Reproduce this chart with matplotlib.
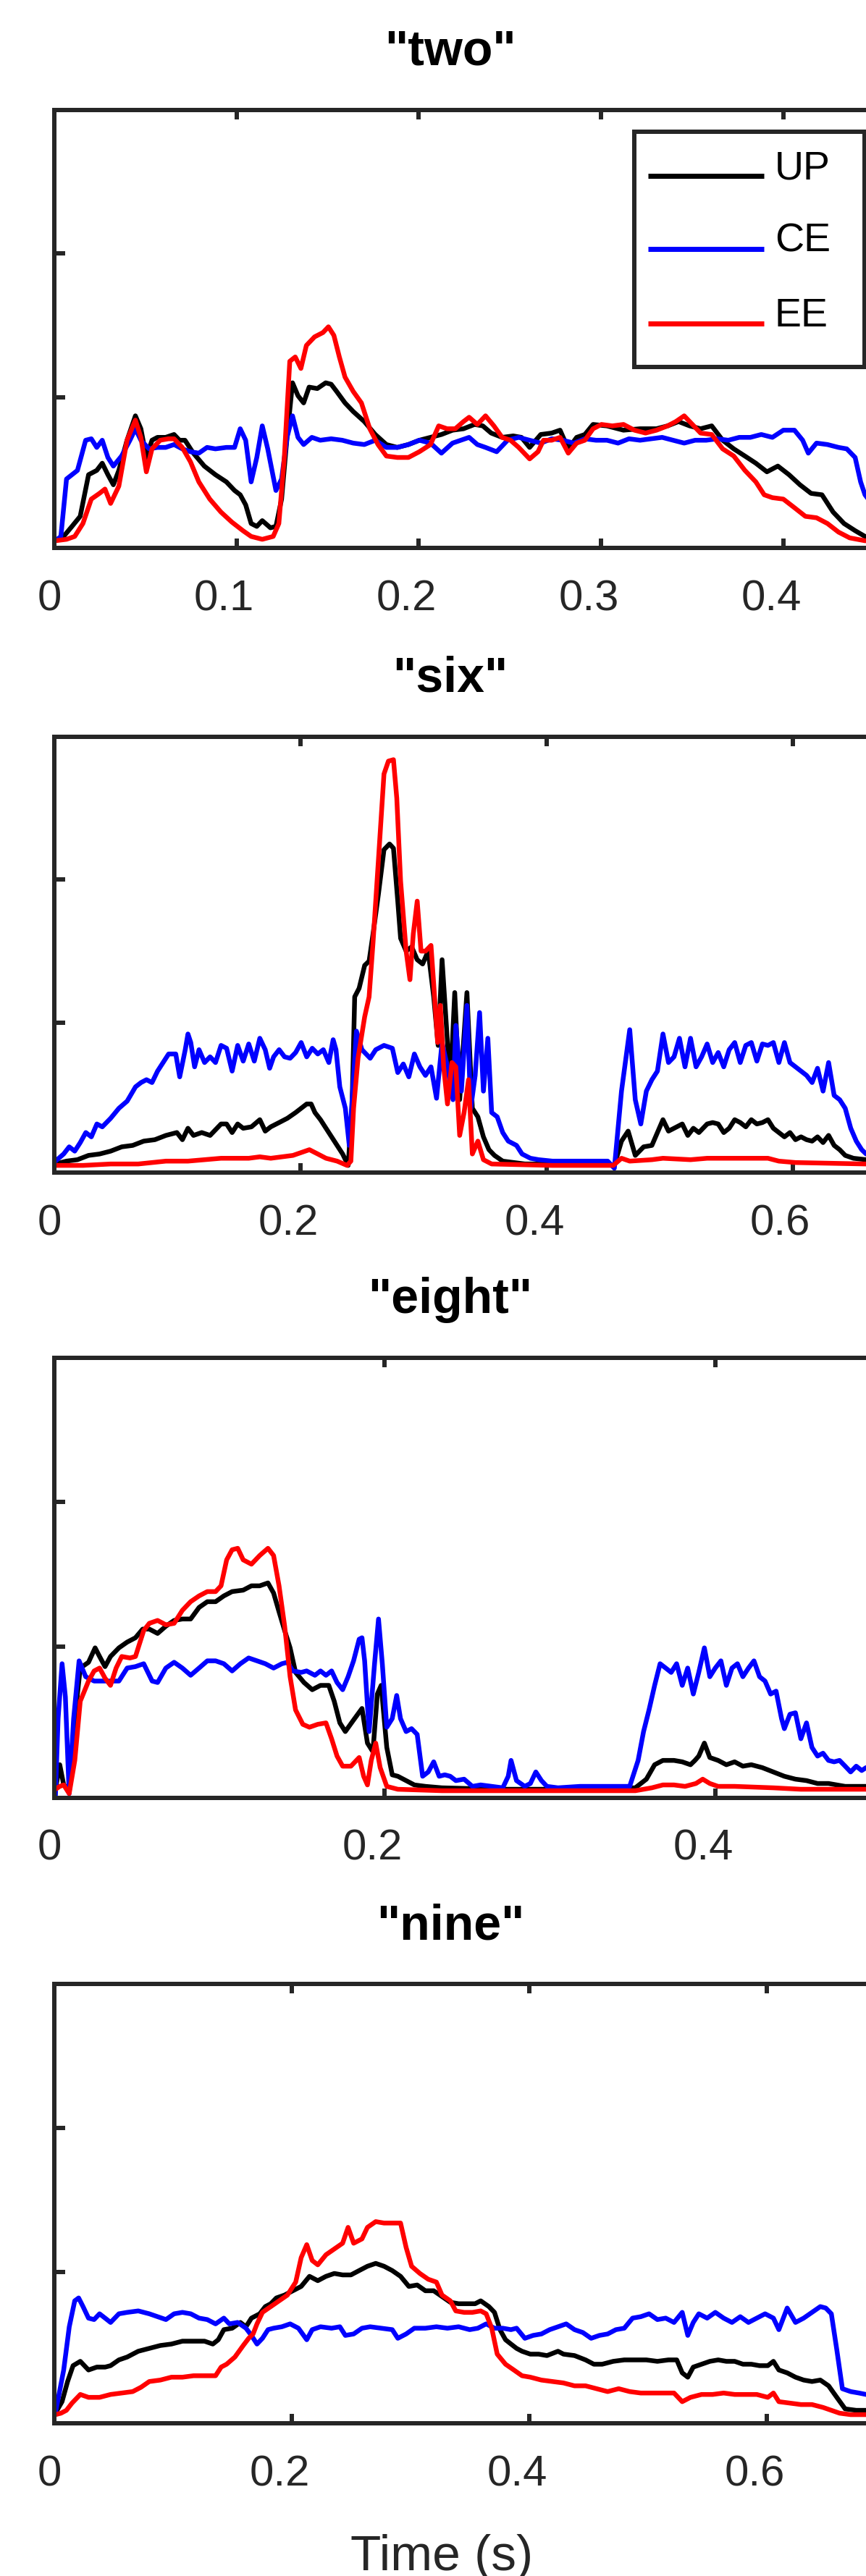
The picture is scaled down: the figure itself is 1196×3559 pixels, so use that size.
import matplotlib
matplotlib.use('Agg')
import matplotlib.pyplot as plt
import matplotlib.transforms as mtransforms
from matplotlib import font_manager
from matplotlib.lines import Line2D
from matplotlib.patches import Rectangle

plt.rcParams['font.family'] = ['Liberation Sans', 'DejaVu Sans']

# ---------------- data: (time in ms, amplitude in tick units) ----------------
titles = ['"two"', '"six"', '"eight"', '"nine"']
series_names = ['UP', 'CE', 'EE']
series_colors = ['#000000', '#0000FF', '#FF0000']
x_max = [0.4827, 0.7149, 0.5324, 0.7409]
x_ticks = [[0, 0.1, 0.2, 0.3, 0.4], [0, 0.2, 0.4, 0.6], [0, 0.2, 0.4], [0, 0.2, 0.4, 0.6]]
x_ticklabels = [['0', '0.1', '0.2', '0.3', '0.4'], ['0', '0.2', '0.4', '0.6'],
                ['0', '0.2', '0.4'], ['0', '0.2', '0.4', '0.6']]
x_label = 'Time (s)'

two_up = [(0.6,0.00),(5.1,0.03),(9.7,0.10),(14.2,0.17),(18.8,0.46),(23.3,0.49),(26.3,0.54),(29.4,0.46),
          (32.4,0.39),(35.4,0.49),(39.9,0.70),(44.5,0.87),(47.5,0.78),(50.5,0.58),(53.6,0.70),(56.6,0.72),
          (61.1,0.72),(65.7,0.74),(68.7,0.70),(71.7,0.70),(76.3,0.61),(82.3,0.52),(88.4,0.46),(94.4,0.41),
          (98.9,0.35),(102.0,0.32),(105.0,0.25),(108.0,0.12),(111.1,0.10),(114.1,0.14),(118.6,0.09),
          (121.6,0.10),(124.7,0.29),(127.7,0.72),(130.7,1.10),(133.7,1.01),(136.8,0.96),(139.8,1.07),
          (144.3,1.06),(148.9,1.10),(151.9,1.09),(154.9,1.04),(159.5,0.96),(164.0,0.90),(170.1,0.83),
          (176.1,0.74),(182.2,0.67),(188.2,0.65),(194.3,0.67),(200.3,0.70),(206.4,0.72),(212.4,0.74),
          (218.5,0.77),(224.5,0.78),(230.6,0.81),(235.1,0.80),(239.7,0.75),(245.7,0.72),(251.8,0.73),
          (256.3,0.72),(260.8,0.65),(266.9,0.74),(272.9,0.75),(277.5,0.77),(282.0,0.64),(286.6,0.72),
          (291.1,0.74),(295.6,0.81),(303.2,0.80),(312.3,0.77),(321.4,0.78),(330.4,0.78),(336.5,0.80),
          (342.5,0.83),(348.6,0.80),(354.6,0.78),(360.7,0.80),(366.7,0.70),(372.8,0.64),(378.9,0.59),
          (384.9,0.54),(391.0,0.48),(397.0,0.52),(403.1,0.46),(409.1,0.39),(415.2,0.33),(421.2,0.32),
          (427.3,0.20),(433.3,0.12),(439.4,0.07),(444.8,0.03),(460.0,0.00),(485.0,0.00)]
two_ce = [(0.6,0.00),(3.6,0.03),(6.7,0.43),(9.7,0.46),(12.7,0.49),(17.2,0.70),(20.3,0.71),(23.3,0.65),
          (26.3,0.70),(29.4,0.58),(32.4,0.52),(36.9,0.59),(41.5,0.70),(44.5,0.78),(47.5,0.70),(52.0,0.64),
          (56.6,0.65),(61.1,0.65),(65.7,0.67),(70.2,0.64),(74.7,0.62),(79.3,0.61),(83.8,0.65),(88.4,0.64),
          (94.4,0.65),(98.9,0.65),(102.0,0.78),(105.0,0.70),(108.0,0.41),(111.1,0.58),(114.1,0.80),
          (117.1,0.64),(121.6,0.35),(124.7,0.43),(127.7,0.72),(130.7,0.87),(133.7,0.72),(136.8,0.67),
          (141.3,0.72),(145.9,0.70),(151.9,0.71),(158.0,0.70),(164.0,0.68),(170.1,0.67),(176.1,0.70),
          (182.2,0.65),(188.2,0.65),(194.3,0.67),(200.3,0.70),(206.4,0.68),(212.4,0.61),(218.5,0.68),
          (227.6,0.72),(232.1,0.67),(236.6,0.65),(242.7,0.62),(248.7,0.70),(254.8,0.72),(260.8,0.70),
          (266.9,0.68),(272.9,0.71),(279.0,0.70),(285.1,0.68),(291.1,0.71),(297.2,0.70),(303.2,0.70),
          (309.3,0.68),(315.3,0.71),(321.4,0.70),(327.4,0.71),(333.5,0.72),(339.5,0.70),(345.6,0.68),
          (351.6,0.70),(357.7,0.70),(363.7,0.71),(369.8,0.70),(375.8,0.72),(381.9,0.72),(387.9,0.74),
          (394.0,0.72),(400.0,0.77),(406.1,0.77),(410.6,0.70),(413.7,0.61),(418.2,0.68),(424.2,0.67),
          (430.3,0.65),(434.8,0.64),(439.4,0.58),(442.4,0.41),(444.8,0.32),(455.0,0.15),(482.0,0.05)]
two_ee = [(0.6,0.00),(6.7,0.01),(11.2,0.03),(15.7,0.12),(20.3,0.29),(24.8,0.33),(27.8,0.36),(30.9,0.26),
          (35.4,0.38),(39.9,0.70),(44.5,0.84),(47.5,0.72),(50.5,0.48),(53.6,0.64),(58.1,0.70),(62.6,0.71),
          (65.7,0.71),(70.2,0.65),(74.7,0.55),(79.3,0.41),(85.3,0.29),(91.4,0.20),(97.4,0.13),(103.5,0.07),
          (108.0,0.03),(114.1,0.01),(120.1,0.03),(123.2,0.12),(126.2,0.58),(129.2,1.25),(132.2,1.28),
          (135.3,1.20),(138.3,1.36),(142.8,1.42),(147.4,1.45),(150.4,1.49),(153.4,1.43),(156.4,1.28),
          (159.5,1.14),(164.0,1.04),(168.5,0.96),(173.1,0.78),(177.6,0.67),(182.2,0.59),(188.2,0.58),
          (194.3,0.58),(200.3,0.62),(206.4,0.67),(210.9,0.80),(215.5,0.78),(220.0,0.78),(224.5,0.83),
          (227.6,0.86),(232.1,0.81),(236.6,0.87),(241.2,0.80),(245.7,0.72),(250.3,0.70),(254.8,0.65),
          (260.8,0.57),(265.4,0.62),(268.4,0.70),(272.9,0.70),(277.5,0.72),(282.0,0.61),(286.6,0.68),
          (291.1,0.70),(295.6,0.78),(300.2,0.81),(306.2,0.80),(312.3,0.81),(318.3,0.77),(324.4,0.75),
          (330.4,0.77),(336.5,0.80),(341.0,0.83),(345.6,0.87),(350.1,0.81),(354.6,0.75),(360.7,0.74),
          (366.7,0.64),(372.8,0.59),(378.9,0.49),(384.9,0.41),(389.5,0.32),(394.0,0.30),(400.0,0.29),
          (406.1,0.23),(412.1,0.17),(418.2,0.16),(424.2,0.12),(430.3,0.06),(436.4,0.02),(444.8,0.00),
          (480.0,0.00)]

six_up = [(0.9,0.01),(9.9,0.03),(18.8,0.04),(27.8,0.07),(36.8,0.08),(45.8,0.10),(54.8,0.13),(63.7,0.14),
          (72.7,0.17),(81.7,0.18),(90.7,0.21),(99.6,0.23),(104.1,0.18),(108.6,0.26),(113.1,0.21),
          (119.8,0.23),(126.6,0.21),(135.5,0.29),(140.0,0.29),(144.5,0.23),(149.0,0.29),(153.5,0.26),
          (160.2,0.27),(167.0,0.32),(171.4,0.24),(175.9,0.27),(182.7,0.30),(189.4,0.33),(196.1,0.37),
          (200.6,0.40),(205.1,0.43),(208.7,0.43),(211.8,0.37),(216.3,0.32),(220.8,0.26),(225.3,0.20),
          (229.8,0.14),(234.3,0.08),(238.8,0.00),(241.9,0.40),(244.1,1.18),(247.7,1.24),(252.2,1.40),
          (255.8,1.43),(259.0,1.62),(263.4,1.90),(267.9,2.21),(272.4,2.25),(275.6,2.22),(279.1,1.85),
          (281.4,1.59),(285.9,1.50),(290.4,1.53),(294.9,1.44),(299.3,1.41),(303.8,1.50),(308.3,1.18),
          (311.9,0.84),(315.1,1.44),(318.6,0.98),(321.8,0.55),(325.4,1.21),(329.4,0.46),(335.3,1.21),
          (339.7,0.40),(344.2,0.34),(348.7,0.20),(353.2,0.11),(357.7,0.07),(364.4,0.03),(382.4,0.01),
          (449.7,0.01),(455.1,0.00),(460.9,0.17),(466.3,0.24),(472.1,0.07),(478.9,0.13),(485.6,0.14),
          (490.1,0.23),(494.6,0.32),(499.1,0.24),(503.6,0.26),(510.3,0.29),(514.8,0.21),(519.3,0.26),
          (523.8,0.23),(530.5,0.29),(535.0,0.30),(539.5,0.29),(544.0,0.23),(548.4,0.26),(552.9,0.32),
          (557.4,0.30),(561.9,0.27),(566.4,0.32),(570.9,0.29),(575.4,0.30),(579.9,0.32),(584.3,0.26),
          (588.8,0.23),(593.3,0.20),(597.8,0.23),(602.3,0.18),(606.8,0.20),(611.3,0.18),(615.8,0.17),
          (620.2,0.20),(624.7,0.16),(629.2,0.21),(633.7,0.14),(638.2,0.11),(642.7,0.07),(649.4,0.05),
          (659.7,0.04),(720.0,0.02)]
six_ce = [(0.9,0.03),(7.6,0.08),(12.1,0.13),(16.6,0.10),(21.1,0.16),(25.6,0.23),(30.1,0.20),(34.6,0.29),
          (39.0,0.27),(45.8,0.33),(52.5,0.40),(59.2,0.45),(66.0,0.55),(70.5,0.58),(74.9,0.60),(79.4,0.58),
          (83.9,0.66),(88.4,0.72),(92.9,0.78),(98.7,0.78),(101.9,0.62),(106.4,0.81),(108.6,0.92),
          (110.9,0.86),(114.0,0.69),(117.6,0.81),(122.1,0.72),(126.6,0.76),(131.0,0.72),(135.5,0.84),
          (140.0,0.82),(144.5,0.66),(149.0,0.84),(153.5,0.73),(158.0,0.85),(162.5,0.73),(167.0,0.89),
          (171.4,0.81),(175.0,0.68),(178.2,0.76),(182.7,0.81),(187.1,0.76),(191.6,0.75),(196.1,0.79),
          (200.6,0.86),(205.1,0.76),(209.6,0.82),(214.1,0.78),(218.6,0.81),(223.1,0.72),(226.6,0.88),
          (228.9,0.81),(232.0,0.55),(236.5,0.40),(239.7,0.14),(245.5,0.94),(250.0,0.81),(256.7,0.75),
          (261.2,0.81),(267.9,0.84),(274.7,0.82),(279.1,0.65),(283.6,0.71),(288.1,0.62),(292.6,0.78),
          (297.1,0.69),(301.6,0.63),(306.1,0.69),(310.6,0.47),(315.1,0.86),(319.5,0.69),(324.0,0.46),
          (326.3,0.98),(330.8,0.52),(335.3,1.12),(338.4,0.40),(342.0,0.63),(345.6,1.07),(348.7,0.52),
          (352.3,0.89),(355.4,0.37),(359.9,0.34),(364.4,0.23),(368.9,0.17),(375.6,0.14),(380.1,0.08),
          (386.9,0.05),(393.6,0.04),(404.8,0.03),(427.3,0.03),(449.7,0.03),(455.1,-0.02),(460.9,0.52),
          (467.6,0.95),(472.1,0.46),(476.6,0.29),(481.1,0.52),(485.6,0.60),(490.1,0.66),(494.6,0.92),
          (499.1,0.72),(503.6,0.76),(508.0,0.89),(512.5,0.69),(517.0,0.89),(521.5,0.69),(526.0,0.76),
          (530.5,0.85),(535.0,0.72),(539.5,0.79),(544.0,0.69),(548.4,0.81),(552.9,0.86),(557.4,0.72),
          (561.9,0.84),(566.4,0.86),(570.9,0.73),(575.4,0.85),(579.9,0.84),(584.3,0.86),(588.8,0.72),
          (593.3,0.86),(597.8,0.72),(602.3,0.69),(606.8,0.66),(611.3,0.63),(615.8,0.58),(620.2,0.68),
          (624.7,0.52),(629.2,0.72),(633.7,0.49),(638.2,0.46),(642.7,0.40),(647.2,0.26),(651.7,0.17),
          (656.1,0.11),(659.7,0.08),(680.0,0.04),(720.0,0.03)]
six_ee = [(0.9,0.00),(23.3,0.00),(45.8,0.01),(68.2,0.01),(90.7,0.03),(108.6,0.03),(135.5,0.05),
          (158.0,0.05),(167.0,0.06),(175.9,0.05),(184.9,0.06),(193.9,0.07),(200.6,0.09),(207.3,0.11),
          (214.1,0.08),(220.8,0.05),(229.8,0.03),(237.9,0.00),(241.0,0.03),(243.2,0.40),(246.8,0.75),
          (252.2,1.04),(255.8,1.18),(259.0,1.56),(263.4,2.14),(267.9,2.74),(271.5,2.83),(275.6,2.84),
          (278.3,2.57),(281.4,1.99),(285.9,1.50),(289.0,1.30),(291.7,1.62),(294.9,1.85),(298.0,1.50),
          (301.6,1.50),(306.1,1.54),(308.3,1.27),(311.5,0.86),(313.7,1.12),(316.4,0.69),(319.5,0.43),
          (323.1,0.72),(326.3,0.69),(329.4,0.21),(333.0,0.37),(336.6,0.60),(339.7,0.08),(344.2,0.17),
          (348.7,0.04),(355.4,0.01),(404.8,0.00),(454.2,0.00),(460.9,0.05),(467.6,0.03),(485.6,0.04),
          (494.6,0.05),(517.0,0.04),(530.5,0.05),(552.9,0.05),(566.4,0.05),(579.9,0.05),(588.8,0.03),
          (602.3,0.02),(659.7,0.01),(720.0,0.01)]

eight_up = [(0.7,0.01),(3.3,0.18),(5.7,0.04),(9.0,0.01),(12.4,0.50),(15.7,0.85),(20.7,0.89),(24.7,0.99),
            (27.4,0.93),(30.7,0.86),(34.0,0.93),(39.1,0.99),(44.1,1.03),(49.1,1.06),(53.5,1.12),(57.5,1.12),
            (62.5,1.09),(67.5,1.14),(72.5,1.18),(77.5,1.19),(82.5,1.19),(87.6,1.27),(92.6,1.31),(97.6,1.31),
            (102.6,1.35),(107.6,1.38),(114.3,1.39),(119.3,1.42),(124.3,1.42),(129.3,1.44),(132.7,1.37),
            (136.0,1.24),(139.4,1.11),(142.7,0.99),(146.0,0.82),(151.1,0.75),(156.1,0.70),(161.1,0.73),
            (166.1,0.73),(169.4,0.62),(172.8,0.47),(176.1,0.41),(181.1,0.49),(186.2,0.57),(189.5,0.33),
            (192.8,0.27),(195.5,0.67),(197.8,0.73),(201.2,0.30),(204.5,0.11),(207.9,0.10),(212.9,0.07),
            (217.9,0.04),(224.6,0.03),(234.6,0.02),(268.0,0.01),(301.4,0.01),(351.6,0.02),(358.3,0.08),
            (363.3,0.18),(368.3,0.21),(375.0,0.21),(380.0,0.20),(385.0,0.18),(387.7,0.21),(390.0,0.24),
            (393.4,0.33),(396.7,0.23),(401.7,0.21),(406.7,0.18),(411.7,0.20),(416.7,0.17),(421.8,0.18),
            (428.4,0.16),(435.1,0.13),(441.8,0.10),(448.5,0.08),(455.2,0.07),(461.9,0.05),(468.5,0.05),
            (478.6,0.03),(491.3,0.03),(540.0,0.02)]
eight_ce = [(0.7,-0.03),(2.3,0.50),(4.7,0.88),(6.7,0.65),(9.0,-0.02),(11.7,0.50),(15.0,0.90),(19.0,0.79),
            (24.1,0.76),(29.1,0.76),(34.0,0.76),(39.1,0.76),(44.1,0.85),(49.1,0.86),(54.1,0.88),(59.2,0.76),
            (62.5,0.75),(67.5,0.85),(72.5,0.89),(77.5,0.85),(82.5,0.80),(87.6,0.85),(92.6,0.90),(97.6,0.90),
            (102.6,0.88),(107.6,0.83),(112.6,0.88),(117.6,0.92),(122.7,0.90),(127.7,0.88),(132.7,0.85),
            (137.7,0.88),(141.0,0.89),(144.4,0.83),(149.4,0.82),(152.7,0.83),(157.7,0.80),(161.1,0.83),
            (164.4,0.80),(167.8,0.83),(171.1,0.75),(174.5,0.70),(177.8,0.79),(181.1,0.90),(184.5,1.05),
            (186.2,1.06),(187.8,0.90),(190.5,0.41),(193.8,0.88),(196.2,1.19),(198.5,0.88),(201.2,0.44),
            (204.5,0.50),(207.2,0.66),(209.5,0.50),(212.9,0.41),(216.2,0.43),(219.6,0.39),(222.9,0.10),
            (226.3,0.13),(229.6,0.20),(232.9,0.10),(236.3,0.11),(239.6,0.10),(243.0,0.07),(248.0,0.08),
            (253.0,0.03),(258.0,0.04),(264.7,0.03),(271.4,0.02),(274.7,0.10),(276.4,0.21),(279.7,0.07),
            (284.7,0.03),(288.1,0.05),(291.4,0.13),(294.8,0.07),(298.1,0.03),(304.8,0.02),(318.2,0.03),
            (334.9,0.03),(348.2,0.03),(353.3,0.21),(356.6,0.41),(359.9,0.56),(363.3,0.73),(366.6,0.88),
            (370.0,0.85),(373.3,0.82),(376.6,0.88),(380.0,0.73),(383.3,0.85),(386.7,0.67),(390.0,0.82),
            (393.4,0.99),(396.7,0.79),(400.0,0.85),(403.4,0.90),(406.7,0.73),(410.1,0.85),(413.4,0.88),
            (416.7,0.79),(420.1,0.85),(423.4,0.90),(426.8,0.79),(430.1,0.76),(433.5,0.67),(436.8,0.69),
            (440.1,0.50),(441.8,0.43),(445.2,0.53),(448.5,0.54),(451.8,0.36),(455.2,0.47),(458.5,0.30),
            (461.9,0.24),(465.2,0.26),(468.5,0.21),(471.9,0.20),(475.2,0.21),(478.6,0.17),(481.9,0.13),
            (485.3,0.17),(488.6,0.14),(491.3,0.16),(510.0,0.10),(540.0,0.05)]
eight_ee = [(0.7,0.01),(3.3,0.03),(5.7,0.04),(9.0,-0.02),(12.4,0.21),(15.7,0.62),(20.7,0.76),(24.1,0.83),
            (27.4,0.85),(30.7,0.78),(34.0,0.73),(37.4,0.85),(40.8,0.93),(45.8,0.92),(49.1,0.93),(54.1,1.11),
            (57.5,1.16),(62.5,1.18),(67.5,1.15),(72.5,1.16),(77.5,1.25),(82.5,1.31),(87.6,1.35),(92.6,1.38),
            (97.6,1.38),(100.9,1.42),(104.3,1.60),(107.6,1.67),(111.0,1.68),(114.3,1.60),(119.3,1.57),
            (124.3,1.63),(129.3,1.68),(132.7,1.63),(136.0,1.42),(139.4,1.14),(142.7,0.79),(146.0,0.56),
            (150.4,0.46),(154.4,0.44),(159.4,0.46),(164.4,0.47),(167.8,0.36),(171.1,0.24),(174.5,0.17),
            (179.5,0.17),(184.5,0.23),(187.2,0.10),(189.5,0.04),(191.8,0.21),(194.5,0.33),(197.2,0.16),
            (201.2,0.03),(207.9,0.01),(234.6,0.00),(351.6,0.00),(361.6,0.02),(368.3,0.04),(375.0,0.04),
            (381.7,0.03),(388.3,0.05),(392.4,0.08),(396.7,0.05),(401.7,0.03),(411.7,0.03),(435.1,0.02),
            (451.8,0.01),(491.3,0.01),(540.0,0.00)]

nine_up = [(0.9,0.02),(6.5,0.10),(11.2,0.24),(15.8,0.35),(21.9,0.38),(28.8,0.32),(35.8,0.34),(42.8,0.34),
           (47.4,0.35),(54.4,0.39),(61.4,0.41),(70.7,0.45),(80.0,0.47),(89.3,0.49),(98.6,0.50),(107.9,0.52),
           (117.2,0.52),(126.5,0.52),(133.5,0.50),(138.1,0.53),(142.8,0.60),(149.8,0.61),(156.7,0.65),
           (161.4,0.62),(166.0,0.68),(173.0,0.71),(177.7,0.76),(182.3,0.78),(187.0,0.82),(193.9,0.84),
           (200.9,0.87),(207.9,0.90),(214.9,0.97),(221.9,0.94),(228.8,0.97),(235.8,0.99),(242.8,0.98),
           (249.8,0.98),(256.7,1.01),(263.7,1.04),(270.7,1.06),(277.7,1.04),(284.6,1.01),(291.6,0.97),
           (298.6,0.90),(305.6,0.91),(312.5,0.87),(319.5,0.87),(326.5,0.83),(333.5,0.79),(340.5,0.78),
           (347.4,0.78),(354.4,0.78),(359.1,0.80),(366.0,0.76),(370.7,0.72),(375.3,0.60),(380.0,0.53),
           (384.6,0.50),(389.3,0.47),(393.9,0.45),(400.9,0.43),(407.9,0.43),(414.9,0.42),(424.2,0.45),
           (428.8,0.43),(438.1,0.42),(447.4,0.39),(454.4,0.36),(461.4,0.36),(470.7,0.38),(480.0,0.39),
           (489.3,0.39),(498.6,0.39),(507.9,0.38),(517.2,0.39),(524.2,0.39),(528.8,0.30),(533.5,0.27),
           (538.1,0.34),(545.1,0.36),(552.1,0.38),(559.1,0.39),(566.0,0.38),(573.0,0.38),(580.0,0.36),
           (587.0,0.36),(593.9,0.35),(600.9,0.35),(605.6,0.38),(610.2,0.32),(617.2,0.30),(624.2,0.27),
           (631.1,0.25),(638.1,0.24),(645.1,0.25),(652.1,0.21),(659.0,0.13),(666.0,0.05),(675.3,0.04),
           (683.7,0.04),(745.0,0.04)]
nine_ce = [(0.9,0.02),(7.9,0.32),(12.6,0.62),(17.2,0.80),(20.5,0.82),(24.2,0.76),(28.8,0.68),(33.5,0.67),
           (38.1,0.71),(42.8,0.68),(47.4,0.65),(54.4,0.71),(61.4,0.72),(70.7,0.73),(80.0,0.71),(87.0,0.69),
           (94.0,0.67),(100.9,0.71),(107.9,0.72),(114.9,0.71),(121.9,0.68),(128.8,0.67),(135.8,0.64),
           (142.8,0.68),(147.4,0.64),(154.4,0.65),(161.4,0.61),(166.0,0.56),(170.7,0.50),(175.3,0.54),
           (180.0,0.60),(184.6,0.61),(191.6,0.62),(198.6,0.64),(205.6,0.61),(212.6,0.53),(217.2,0.60),
           (224.2,0.62),(233.5,0.61),(240.5,0.62),(245.1,0.56),(252.1,0.57),(259.1,0.61),(266.0,0.62),
           (275.3,0.61),(284.6,0.60),(289.3,0.54),(296.3,0.57),(303.2,0.61),(312.5,0.61),(321.8,0.62),
           (331.1,0.61),(340.5,0.62),(349.8,0.60),(356.7,0.61),(363.7,0.64),(370.7,0.61),(377.7,0.61),
           (384.6,0.60),(389.3,0.61),(396.3,0.54),(403.2,0.56),(410.2,0.57),(417.2,0.60),(424.2,0.62),
           (431.1,0.64),(438.1,0.60),(445.1,0.58),(452.1,0.54),(459.1,0.56),(466.0,0.57),(473.0,0.60),
           (480.0,0.61),(487.0,0.68),(493.9,0.69),(500.9,0.71),(507.9,0.67),(514.9,0.68),(521.9,0.65),
           (528.8,0.72),(533.5,0.56),(538.1,0.65),(542.8,0.71),(549.8,0.68),(556.7,0.72),(563.7,0.68),
           (570.7,0.65),(577.7,0.69),(584.6,0.65),(591.6,0.68),(598.6,0.71),(605.6,0.68),(610.2,0.60),
           (617.2,0.75),(624.2,0.65),(631.1,0.68),(638.1,0.72),(645.1,0.76),(649.7,0.75),(654.4,0.71),
           (659.0,0.46),(663.7,0.19),(670.7,0.17),(677.7,0.16),(683.7,0.15),(745.0,0.10)]
nine_ee = [(0.9,0.01),(5.6,0.02),(10.2,0.04),(14.9,0.09),(21.9,0.15),(28.8,0.13),(38.1,0.13),(47.4,0.15),
           (56.7,0.16),(66.0,0.17),(73.0,0.20),(80.0,0.24),(89.3,0.25),(98.6,0.27),(107.9,0.27),(117.2,0.28),
           (126.5,0.28),(135.8,0.28),(140.5,0.34),(145.1,0.36),(152.1,0.41),(159.1,0.49),(163.7,0.54),
           (167.4,0.57),(170.7,0.64),(175.3,0.72),(182.3,0.76),(189.3,0.80),(196.3,0.84),(203.3,0.93),
           (207.9,1.10),(212.6,1.19),(217.2,1.08),(221.9,1.05),(228.8,1.12),(235.8,1.16),(242.8,1.20),
           (247.4,1.31),(252.1,1.20),(259.1,1.23),(263.7,1.31),(270.7,1.35),(277.7,1.34),(284.6,1.34),
           (291.6,1.34),(296.3,1.17),(300.9,1.04),(307.9,0.99),(314.9,0.95),(321.8,0.93),(326.5,0.84),
           (333.5,0.80),(338.1,0.73),(345.1,0.72),(352.1,0.72),(359.1,0.73),(363.7,0.71),(368.4,0.61),
           (373.0,0.43),(380.0,0.36),(387.0,0.32),(393.9,0.28),(400.9,0.27),(410.2,0.25),(419.5,0.24),
           (428.8,0.23),(438.1,0.21),(447.4,0.21),(456.7,0.19),(466.0,0.17),(475.3,0.19),(484.6,0.17),
           (493.9,0.16),(503.2,0.16),(512.5,0.16),(521.9,0.16),(528.8,0.10),(535.8,0.13),(545.1,0.15),
           (554.4,0.15),(563.7,0.16),(573.0,0.15),(582.3,0.15),(591.6,0.15),(600.9,0.13),(605.6,0.16),
           (610.2,0.10),(619.5,0.09),(628.8,0.08),(638.1,0.08),(647.4,0.06),(654.4,0.04),(661.4,0.02),
           (670.7,0.01),(683.7,0.01),(745.0,0.01)]

panels = [(two_up, two_ce, two_ee), (six_up, six_ce, six_ee),
          (eight_up, eight_ce, eight_ee), (nine_up, nine_ce, nine_ee)]

# ---------------- layout (pixels) ----------------
W, H, DPI = 1196, 3559, 100
fig = plt.figure(figsize=(W / DPI, H / DPI), dpi=DPI)
AX_COLOR = '#262626'

# narrow tick font if available, else regular at a size matching the label widths
_installed = {f.name for f in font_manager.fontManager.ttflist}
if 'Liberation Sans Narrow' in _installed:
    TICK_FONT, TICK_SIZE = ['Liberation Sans Narrow', 'DejaVu Sans'], 47
else:
    TICK_FONT, TICK_SIZE = ['Liberation Sans', 'DejaVu Sans'], 43


def pt(p):
    return p * 72.0 / DPI


ax_left, ax_width = 75, 1215
ax_spans = [(152, 757), (1018, 1620), (1876, 2484), (2741, 3348)]
title_x = 622
title_gap = 62

for i, (top, bot) in enumerate(ax_spans):
    ax = fig.add_axes([ax_left / W, 1 - bot / H, ax_width / W, (bot - top) / H])
    for name, color, data in zip(series_names, series_colors, panels[i]):
        t = [p[0] / 1000.0 for p in data]
        a = [p[1] for p in data]
        ax.plot(t, a, color=color, lw=pt(6.5), solid_joinstyle='round', label=name)
    ax.set_xlim(0, x_max[i])
    ax.set_ylim(-0.05, 3.0)
    ax.set_xticks(x_ticks[i])
    ax.set_xticklabels([])
    ax.set_yticks([1, 2])
    ax.set_yticklabels([])
    for s in ax.spines.values():
        s.set_linewidth(pt(6))
        s.set_color(AX_COLOR)
    ax.tick_params(axis='both', direction='in', top=True, right=True, color=AX_COLOR, width=pt(6))
    ax.tick_params(axis='x', length=pt(13))
    ax.tick_params(axis='y', length=pt(15))
    # tick labels
    trans = mtransforms.blended_transform_factory(ax.transData, ax.transAxes)
    for v, lab in zip(x_ticks[i], x_ticklabels[i]):
        shift = -7 if len(lab) == 1 else -17
        off = mtransforms.ScaledTranslation(shift / DPI, -86 / DPI, fig.dpi_scale_trans)
        ax.text(v, 0, lab, transform=trans + off, ha='center', va='baseline',
                fontsize=TICK_SIZE, family=TICK_FONT, color=AX_COLOR, clip_on=False)
    fig.text(title_x / W, 1 - (top - title_gap) / H, titles[i], ha='center', va='baseline',
             fontsize=49, fontweight='bold', color='#000000')

# x label
fig.text(610 / W, 1 - 3551 / H, x_label, ha='center', va='baseline', fontsize=50, color=AX_COLOR)

# legend (in first panel)
lx0, ly0, lx1, ly1 = 876, 182, 1194, 507
fig.add_artist(Rectangle((lx0 / W, 1 - ly1 / H), (lx1 - lx0) / W, (ly1 - ly0) / H,
                         transform=fig.transFigure, facecolor='white', edgecolor=AX_COLOR,
                         lw=pt(6), zorder=5))
row_y = [243, 344, 447]
for name, color, y in zip(series_names, series_colors, row_y):
    fig.add_artist(Line2D([895 / W, 1055 / W], [1 - y / H, 1 - y / H], transform=fig.transFigure,
                          color=color, lw=pt(7), solid_capstyle='butt', zorder=6))
    fig.text(1070 / W, 1 - (y + 4) / H, name, ha='left', va='baseline', fontsize=40,
             color='#000000', zorder=6)

fig.savefig('out.png', dpi=DPI)
